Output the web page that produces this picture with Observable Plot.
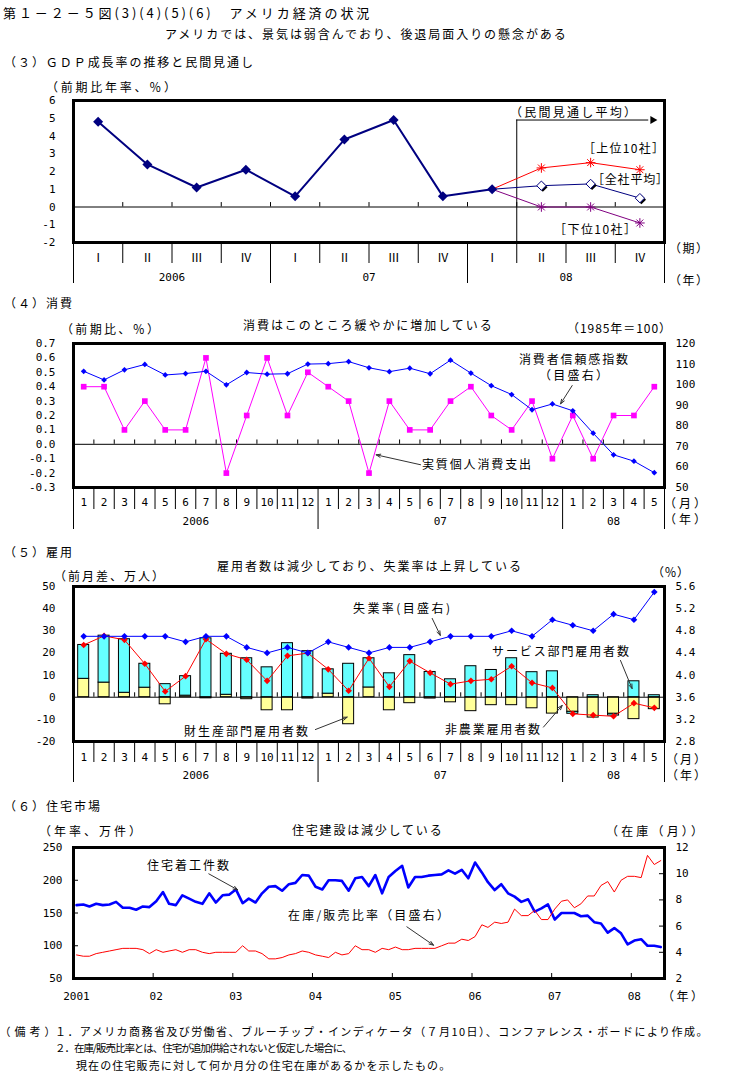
<!DOCTYPE html>
<html><head><meta charset="utf-8">
<script src="https://cdn.jsdelivr.net/npm/d3@7"></script>
<script src="https://cdn.jsdelivr.net/npm/@observablehq/plot@0.6"></script>
<style>
body{margin:0;background:#fff;}
#page{position:relative;width:737px;height:1084px;overflow:hidden;background:#fff;color:#000;font-family:"Noto Sans CJK JP","Noto Sans",sans-serif;}
.t{position:absolute;white-space:nowrap;color:#000;}
</style></head>
<body><div id="page"></div>
<script>
// ---------------- DATA ----------------
// (3) GDP
const quarterLabels = ["Ⅰ","Ⅱ","Ⅲ","Ⅳ","Ⅰ","Ⅱ","Ⅲ","Ⅳ","Ⅰ","Ⅱ","Ⅲ","Ⅳ"];
const quarterYears = ["2006","07","08"];
const gdpActual = [4.8, 2.4, 1.1, 2.1, 0.6, 3.8, 4.9, 0.6, 1.0];
const gdpTop10 = [2.2, 2.5, 2.1];
const gdpAverage = [1.2, 1.3, 0.5];
const gdpBottom10 = [0.0, 0.0, -0.9];
const gdpTicks = [-2, -1, 0, 1, 2, 3, 4, 5, 6];

// (4) consumption
const monthLabels = ["1","2","3","4","5","6","7","8","9","10","11","12","1","2","3","4","5","6","7","8","9","10","11","12","1","2","3","4","5"];
const monthYears = ["2006","07","08"];
const consumption = [0.4,0.4,0.1,0.3,0.1,0.1,0.6,-0.2,0.2,0.6,0.2,0.5, 0.4,0.3,-0.2,0.3,0.1,0.1,0.3,0.4,0.2,0.1,0.3,-0.1, 0.2,-0.1,0.2,0.2,0.4];
const confidence = [106.5,102.3,107.2,109.8,104.7,105.4,106.5,99.9,105.9,105.1,105.3,110.0, 110.2,111.2,108.2,106.3,108.0,105.3,111.9,105.6,99.5,95.2,87.8,90.6, 87.3,76.4,65.9,62.8,57.2];
const consLeftTicks = [-0.3,-0.2,-0.1,0,0.1,0.2,0.3,0.4,0.5,0.6,0.7];
const consRightTicks = [50,60,70,80,90,100,110,120];

// (5) employment
const goodsJobs = [8.3,6.6,2.0,4.3,-3.2,0.7,-0.5,1.1,-0.9,-5.9,-5.9,-0.6, 1.6,-12.2,4.4,-5.9,-2.7,-0.6,-2.3,-6.3,-3.6,-3.6,-5.0,-7.4, -6.6,-9.2,-7.5,-9.9,-5.4];
const servicesJobs = [15.3,21.2,24.2,10.8,5.9,8.8,26.6,18.5,17.6,13.5,24.4,20.8, 11.0,15.1,13.2,10.8,19.0,11.4,8.1,14.0,12.3,17.6,11.3,11.7, -0.9,0.9,-0.8,7.2,0.9];
const nonfarmJobs = [23.6,27.7,25.9,15.1,2.6,9.5,26.2,19.6,16.9,7.4,18.7,19.9, 12.6,2.9,17.6,4.7,16.3,11.0,5.9,7.4,8.1,14.0,6.5,4.2, -7.5,-8.1,-8.6,-2.7,-4.8];
const unemployment = [4.7,4.7,4.7,4.7,4.7,4.6,4.7,4.7,4.5,4.4,4.5,4.4, 4.6,4.5,4.4,4.5,4.5,4.6,4.7,4.7,4.7,4.8,4.7,5.0, 4.9,4.8,5.1,5.0,5.5];
const jobsLeftTicks = [-20,-10,0,10,20,30,40,50];
const jobsRightTicks = [2.8,3.2,3.6,4.0,4.4,4.8,5.2,5.6];

// (6) housing (monthly from Jan 2001)
const housingStarts = [
 162,163,160,164,162,163,167,158,158,155,160,159,
 168,182,164,162,177,172,167,164,180,166,177,178,
 186,165,172,166,180,190,191,184,194,196,208,207,
 190,186,200,200,199,184,203,205,191,208,180,205,
 214,222,189,205,205,207,208,209,215,210,216,203,
 227,212,197,185,194,180,175,167,171,152,157,163,
 140,150,150,150,145,146,136,134,120,127,119,102,
 108,110,100,100,98];
const inventoryMonths = [
 3.8,3.7,3.7,3.9,4.0,4.1,4.2,4.3,4.3,4.3,4.2,3.9,
 4.2,4.0,4.1,4.2,4.0,4.2,4.2,4.0,3.9,4.0,4.0,4.0,
 4.0,4.5,4.1,4.1,3.9,3.5,3.5,3.6,3.8,3.9,4.1,4.0,
 3.8,3.7,3.6,4.0,3.8,3.9,4.5,4.2,4.2,4.0,4.3,4.2,
 4.4,4.2,4.2,4.3,4.3,4.3,4.3,4.5,4.7,4.7,5.0,4.9,
 5.2,6.1,5.9,6.3,6.2,6.3,7.3,6.8,6.8,7.2,6.5,6.5,
 7.3,7.9,8.0,7.4,7.7,8.3,8.3,9.1,9.4,8.6,9.5,9.8,
 9.8,9.7,11.4,10.7,11.0];
const housingYearLabels = ["2001","02","03","04","05","06","07","08"];
const housingLeftTicks = [50,100,150,200,250];
const housingRightTicks = [2,4,6,8,10,12];

// ---------------- HELPERS ----------------
const page = document.getElementById("page");
const FONT = '"Noto Sans CJK JP", "Noto Sans", sans-serif';
const AXFONT = '"DejaVu Sans Mono", "Noto Sans CJK JP", monospace';
const W = 737, ML = 73, MR = 73, FW = W - ML - MR;
const ctx = document.createElement("canvas").getContext("2d");
const OPEN = "（［「", CLOSE = "）］」。、";
function label(text, x1, x2, yc, size = 12) {
  const chars = [...text];
  // reference extents are visual: full-width brackets carry blank half-cells outside
  if (OPEN.includes(chars[0])) x1 -= size * 0.5;
  if (CLOSE.includes(chars[chars.length - 1])) x2 += size * 0.5;
  ctx.font = `${size}px "Noto Sans CJK JP"`;
  const w = ctx.measureText(text).width;
  const n = chars.length;
  let ls = n > 1 ? (x2 - x1 - w) / (n - 1) : 0;
  if (ls < -1) { // tighten at most 1px per glyph, shrink the font for the rest
    ls = -1;
    size = size * (x2 - x1 + (n - 1)) / w;
  }
  const d = document.createElement("div");
  d.className = "t";
  d.textContent = text;
  Object.assign(d.style, {left: x1 + "px", top: (yc - size / 2) + "px", fontSize: size + "px", lineHeight: size + "px", letterSpacing: ls + "px"});
  page.appendChild(d);
}
function place(svg, top) {
  svg.style.position = "absolute"; svg.style.left = "0px"; svg.style.top = top + "px";
  page.appendChild(svg);
}
const style = () => ({fontFamily: AXFONT, fontSize: "11px", color: "#000", background: "transparent", overflow: "visible"});
function groups(labels) {
  const starts = [];
  labels.forEach((l, i) => { if (i === 0 || l === labels[0]) starts.push(i); });
  const ends = starts.slice(1).concat(labels.length);
  return starts.map((s, k) => ({start: s, end: ends[k], center: (s + ends[k]) / 2}));
}
function catAxes(labels, years, minorLen, majorLen, padLabel, padYear, labelFont) {
  const g = groups(labels);
  const majors = [0, ...g.map(d => d.end)];
  const minors = d3.range(1, labels.length).filter(i => !majors.includes(i));
  const centers = g.map(d => d.center);
  return [
    Plot.axisX({ticks: minors, tickSize: minorLen, tickFormat: () => "", label: null}),
    Plot.axisX({ticks: majors, tickSize: majorLen, tickFormat: () => "", label: null}),
    Plot.axisX({ticks: labels.map((_, i) => i + 0.5), tickSize: 0, tickPadding: padLabel, tickFormat: d => labels[Math.floor(d)], label: null, ...(labelFont ? {fontFamily: labelFont, fontSize: 12} : {})}),
    Plot.axisX({ticks: centers, tickSize: 0, tickPadding: padYear, tickFormat: d => years[centers.indexOf(d)], label: null})
  ];
}
const star = (data, color) => ["plus", "times"].map(s =>
  Plot.dot(data, {x: "x", y: "v", symbol: s, r: 3.2, fill: "none", stroke: color, strokeWidth: 1}));
const arrowStyle = {x1: "x1", y1: "y1", x2: "x2", y2: "y2", stroke: "#333", strokeWidth: 1, headLength: 7, headAngle: 40};

// ---------------- (3) GDP ----------------
{
  const n = quarterLabels.length;
  const actual = gdpActual.map((v, i) => ({x: i + 0.5, v}));
  const last = actual[actual.length - 1];
  const fc = arr => [last, ...arr.map((v, k) => ({x: last.x + k + 1, v}))];
  const top = fc(gdpTop10), avg = fc(gdpAverage), bot = fc(gdpBottom10);
  const boundary = last.x + 0.5;
  const [y0, y1] = d3.extent(gdpTicks);
  const boxTop = 4.9, arrowEnd = 11.76;
  const svg = Plot.plot({
    width: W, height: 8 + 142 + 46, marginTop: 8, marginBottom: 46, marginLeft: ML, marginRight: MR,
    style: style(),
    x: {domain: [0, n]}, y: {domain: [y0, y1]},
    marks: [
      Plot.ruleY([0], {stroke: "black"}),
      Plot.ruleX(d3.range(1, n), {y1: 0, y2: 0.25, stroke: "black"}),
      Plot.ruleX([boundary], {y1: y0, y2: boxTop, stroke: "black"}),
      Plot.ruleY([boxTop], {x1: boundary, x2: arrowEnd - 0.08, stroke: "black"}),
      Plot.dot([{x: arrowEnd, v: boxTop}], {x: "x", y: "v", symbol: "triangle", rotate: 90, r: 3, fill: "black"}),
      Plot.line(top, {x: "x", y: "v", stroke: "#FF0000", strokeWidth: 1}),
      Plot.line(avg, {x: "x", y: "v", stroke: "#000080", strokeWidth: 1}),
      Plot.line(bot, {x: "x", y: "v", stroke: "#800080", strokeWidth: 1}),
      Plot.line(actual, {x: "x", y: "v", stroke: "#000080", strokeWidth: 2}),
      Plot.dot(actual, {x: "x", y: "v", symbol: "diamond2", r: 4.5, fill: "#000080", stroke: "none"}),
      ...star(top.slice(1), "#FF0000"),
      ...star(bot.slice(1), "#800080"),
      Plot.dot(avg.slice(1), {x: "x", y: "v", symbol: "diamond2", r: 4.2, fill: "black", stroke: "none", dx: 1.5, dy: 1.5}),
      Plot.dot(avg.slice(1), {x: "x", y: "v", symbol: "diamond2", r: 4.2, fill: "white", stroke: "#000080", strokeWidth: 1}),
      Plot.axisY({ticks: gdpTicks, tickSize: 0, tickPadding: 18, tickFormat: d => String(d), label: null}),
      ...catAxes(quarterLabels, quarterYears, 21, 41, 11, 31, FONT),
      Plot.frame({stroke: "black", strokeWidth: 3})
    ]
  });
  place(svg, 92);
}

// ---------------- (4) Consumption ----------------
{
  const n = monthLabels.length;
  const [l0, l1] = d3.extent(consLeftTicks), [r0, r1] = d3.extent(consRightTicks);
  const toL = v => l0 + (v - r0) / (r1 - r0) * (l1 - l0);
  const fromL = d => r0 + (d - l0) / (l1 - l0) * (r1 - r0);
  const cons = consumption.map((v, i) => ({x: i + 0.5, v}));
  const conf = confidence.map((v, i) => ({x: i + 0.5, v: toL(v)}));
  const notes = [
    {x1: 24.47, y1: 0.408, x2: 23.9, y2: 0.281},
    {x1: 17.03, y1: -0.142, x2: 14.85, y2: -0.073}
  ];
  const svg = Plot.plot({
    width: W, height: 8 + 144 + 48, marginTop: 8, marginBottom: 48, marginLeft: ML, marginRight: MR,
    style: style(),
    x: {domain: [0, n]}, y: {domain: [l0, l1]},
    marks: [
      Plot.ruleY([0], {stroke: "black"}),
      Plot.ruleX(d3.range(1, n), {y1: 0, y2: 0.03, stroke: "black"}),
      Plot.line(cons, {x: "x", y: "v", stroke: "#FF00FF", strokeWidth: 1}),
      Plot.dot(cons, {x: "x", y: "v", symbol: "square", r: 3.2, fill: "#FF00FF", stroke: "none"}),
      Plot.line(conf, {x: "x", y: "v", stroke: "#0000FF", strokeWidth: 1}),
      Plot.dot(conf, {x: "x", y: "v", symbol: "diamond2", r: 2.6, fill: "#0000FF", stroke: "none"}),
      Plot.arrow(notes, arrowStyle),
      Plot.axisY({ticks: consLeftTicks, tickSize: 0, tickPadding: 18, tickFormat: d => d.toFixed(1), label: null}),
      Plot.axisY({anchor: "right", ticks: consRightTicks.map(toL), tickSize: 0, tickPadding: 11, tickFormat: d => String(Math.round(fromL(d))), label: null}),
      ...catAxes(monthLabels, monthYears, 22, 42, 10.5, 30),
      Plot.frame({stroke: "black", strokeWidth: 3})
    ]
  });
  place(svg, 335);
}

// ---------------- (5) Employment ----------------
{
  const n = monthLabels.length;
  const [l0, l1] = d3.extent(jobsLeftTicks), [r0, r1] = d3.extent(jobsRightTicks);
  const toL = v => l0 + (v - r0) / (r1 - r0) * (l1 - l0);
  const fromL = d => r0 + (d - l0) / (l1 - l0) * (r1 - r0);
  const stacks = [];
  monthLabels.forEach((_, i) => {
    let pos = 0, neg = 0;
    [["goods", goodsJobs[i]], ["services", servicesJobs[i]]].forEach(([s, v]) => {
      const a = v >= 0 ? pos : neg, b = a + v;
      if (v >= 0) pos = b; else neg = b;
      stacks.push({i, s, a, b});
    });
  });
  const barOpts = {x1: d => d.i + 0.23, x2: d => d.i + 0.77, y1: "a", y2: "b", stroke: "black", strokeWidth: 1};
  const nonfarm = nonfarmJobs.map((v, i) => ({x: i + 0.5, v}));
  const unemp = unemployment.map((v, i) => ({x: i + 0.5, v: toL(v)}));
  const notes = [
    {x1: 17.6, y1: 35.6, x2: 18.0, y2: 27.9},
    {x1: 26.84, y1: 16.6, x2: 27.41, y2: 3.9},
    {x1: 23.06, y1: -13.5, x2: 23.98, y2: -3.7},
    {x1: 11.87, y1: -14.6, x2: 13.43, y2: -9.0}
  ];
  const svg = Plot.plot({
    width: W, height: 8 + 155 + 46, marginTop: 8, marginBottom: 46, marginLeft: ML, marginRight: MR,
    style: style(),
    x: {domain: [0, n]}, y: {domain: [l0, l1]},
    marks: [
      Plot.rect(stacks.filter(d => d.s === "goods"), {...barOpts, fill: "#FFFF99"}),
      Plot.rect(stacks.filter(d => d.s === "services"), {...barOpts, fill: "#66FFFF"}),
      Plot.ruleY([0], {stroke: "black"}),
      Plot.ruleX(d3.range(1, n), {y1: 0, y2: 2, stroke: "black"}),
      Plot.line(nonfarm, {x: "x", y: "v", stroke: "#FF0000", strokeWidth: 1}),
      Plot.dot(nonfarm, {x: "x", y: "v", symbol: "diamond2", r: 3, fill: "#FF0000", stroke: "none"}),
      Plot.line(unemp, {x: "x", y: "v", stroke: "#0000FF", strokeWidth: 1}),
      Plot.dot(unemp, {x: "x", y: "v", symbol: "diamond2", r: 3, fill: "#0000FF", stroke: "none"}),
      Plot.arrow(notes, arrowStyle),
      Plot.axisY({ticks: jobsLeftTicks, tickSize: 0, tickPadding: 18, tickFormat: d => String(d), label: null}),
      Plot.axisY({anchor: "right", ticks: jobsRightTicks.map(toL), tickSize: 0, tickPadding: 11, tickFormat: d => fromL(d).toFixed(1), label: null}),
      ...catAxes(monthLabels, monthYears, 21, 41, 11.5, 30),
      Plot.frame({stroke: "black", strokeWidth: 3})
    ]
  });
  place(svg, 578);
}

// ---------------- (6) Housing ----------------
{
  const startYear = +housingYearLabels[0];
  const [l0, l1] = d3.extent(housingLeftTicks), [r0, r1] = d3.extent(housingRightTicks);
  const toL = v => l0 + (v - r0) / (r1 - r0) * (l1 - l0);
  const fromL = d => r0 + (d - l0) / (l1 - l0) * (r1 - r0);
  const monthDate = m => new Date(Date.UTC(startYear, m, 15));
  const starts = housingStarts.map((v, m) => ({date: monthDate(m), v}));
  const inv = inventoryMonths.map((v, m) => ({date: monthDate(m), v: toL(v)}));
  const yearDates = housingYearLabels.map((_, k) => new Date(Date.UTC(startYear + k, 0, 1)));
  const endDate = new Date(Date.UTC(startYear, housingStarts.length, 1));
  const frac = f => new Date(Date.UTC(Math.floor(f), 0, 1) + (f % 1) * 365.25 * 864e5);
  const notes = [
    {x1: frac(2002.698), y1: 209.8, x2: frac(2003.061), y2: 185.4},
    {x1: frac(2005.182), y1: 128.9, x2: frac(2005.517), y2: 100.8}
  ];
  const FH = 131;
  const svg = Plot.plot({
    width: W, height: 8 + FH + 26, marginTop: 8, marginBottom: 26, marginLeft: ML, marginRight: MR,
    style: style(),
    x: {type: "utc", domain: [yearDates[0], endDate]}, y: {domain: [l0, l1]},
    marks: [
      Plot.line(starts, {x: "date", y: "v", stroke: "#0000FF", strokeWidth: 2.6}),
      Plot.line(inv, {x: "date", y: "v", stroke: "#FF0000", strokeWidth: 1}),
      Plot.tickY(housingLeftTicks.slice(1, -1), {insetRight: FW - 5, stroke: "black"}),
      Plot.tickY(housingRightTicks.slice(1, -1).map(toL), {insetLeft: FW - 5, stroke: "black"}),
      Plot.tickX(yearDates.slice(1), {insetTop: FH - 5, stroke: "black"}),
      Plot.arrow(notes, arrowStyle),
      Plot.axisY({ticks: housingLeftTicks, tickSize: 0, tickPadding: 11, tickFormat: d => String(d), label: null}),
      Plot.axisY({anchor: "right", ticks: housingRightTicks.map(toL), tickSize: 0, tickPadding: 11, tickFormat: d => String(Math.round(fromL(d))), label: null}),
      Plot.axisX({ticks: yearDates, tickSize: 0, tickPadding: 14, dx: 3, tickFormat: d => housingYearLabels[yearDates.findIndex(t => +t === +d)], label: null}),
      Plot.frame({stroke: "black", strokeWidth: 3})
    ]
  });
  place(svg, 839);
}

// ---------------- TEXT ----------------
label("第１－２－５図(3)(4)(5)(6)　アメリカ経済の状況", 3, 370, 12, 13);
label("アメリカでは、景気は弱含んでおり、後退局面入りの懸念がある", 165, 567, 34);
label("（３）ＧＤＰ成長率の推移と民間見通し", 10, 253, 62);
label("（前期比年率、％）", 52, 170, 87);
label("（民間見通し平均）", 516, 630, 112);
label("［上位10社］", 589, 658, 148);
label("［全社平均］", 598, 662, 179);
label("［下位10社］", 560, 630, 229);
label("（期）", 675, 702, 248);
label("（年）", 675, 702, 280);

label("（４）消費", 10, 72, 303);
label("（前期比、％）", 67, 153, 329);
label("消費はこのところ緩やかに増加している", 243, 492, 325);
label("（1985年＝100）", 573, 665, 328);
label("消費者信頼感指数", 519, 628, 359);
label("（目盛右）", 545, 602, 375);
label("実質個人消費支出", 422, 531, 464);
label("（月）", 670, 700, 503);
label("（年）", 670, 700, 519);

label("（５）雇用", 10, 72, 552);
label("（前月差、万人）", 60, 158, 576);
label("雇用者数は減少しており、失業率は上昇している", 217, 522, 566);
label("（％）", 658, 683, 572);
label("失業率(目盛右)", 353, 450, 608);
label("サービス部門雇用者数", 492, 629, 651);
label("非農業雇用者数", 445, 540, 729);
label("財生産部門雇用者数", 184, 308, 731);
label("（月）", 672, 700, 759);
label("（年）", 672, 700, 775);

label("（６）住宅市場", 10, 100, 806);
label("（年率、万件）", 45, 135, 831);
label("住宅建設は減少している", 292, 442, 830);
label("（在庫（月））", 612, 697, 831);
label("住宅着工件数", 147, 229, 865);
label("在庫/販売比率（目盛右）", 288, 443, 915);
label("（年）", 668, 697, 996);

label("（備考）", 5, 50, 1031, 11);
label("１．アメリカ商務省及び労働省、ブルーチップ・インディケータ（７月10日）、コンファレンス・ボードにより作成。", 55, 704, 1031, 11);
label("２．在庫/販売比率とは、住宅が追加供給されないと仮定した場合に、", 55, 347, 1048, 11);
label("現在の住宅販売に対して何か月分の住宅在庫があるかを示したもの。", 76, 445, 1065, 11);
</script>
</body></html>
